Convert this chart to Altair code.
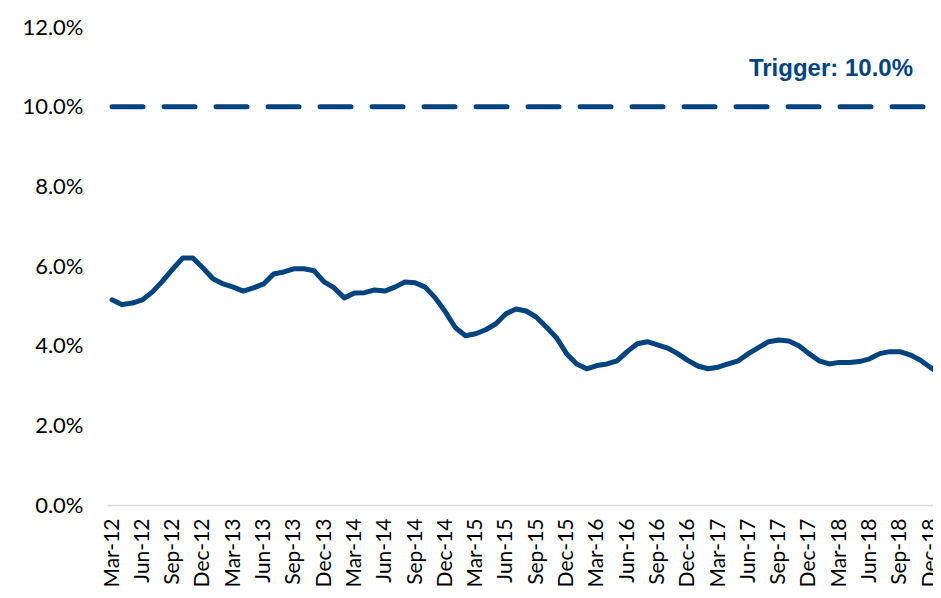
import altair as alt
import pandas as pd

# Monthly categories (Mar-12 .. Jan-19)
months = [d.strftime("%b-%y") for d in pd.date_range("2012-03-01", "2019-01-01", freq="MS")]

# Series values (%)
ratio = [
    5.15, 5.03, 5.07, 5.15, 5.35, 5.62, 5.92, 6.20, 6.20, 5.95,
    5.68, 5.55, 5.47, 5.37, 5.45, 5.55, 5.80, 5.85, 5.93, 5.93,
    5.88, 5.60, 5.45, 5.20, 5.32, 5.33, 5.40, 5.37, 5.47, 5.60,
    5.58, 5.47, 5.20, 4.85, 4.45, 4.25, 4.30, 4.40, 4.55, 4.80,
    4.92, 4.87, 4.72, 4.47, 4.20, 3.80, 3.54, 3.42, 3.50, 3.54,
    3.62, 3.85, 4.05, 4.10, 4.02, 3.94, 3.80, 3.63, 3.49, 3.42,
    3.46, 3.54, 3.62, 3.80, 3.95, 4.10, 4.14, 4.12, 4.00, 3.80,
    3.62, 3.54, 3.58, 3.58, 3.60, 3.67, 3.80, 3.85, 3.85, 3.77,
    3.64, 3.46, 3.28,
]
trigger = 10.0
trigger_label = "Trigger: 10.0%"
y_ticks = [0.0, 0.02, 0.04, 0.06, 0.08, 0.10, 0.12]

label_every = 3
tick_idx = list(range(0, len(months), label_every))

df = pd.DataFrame({
    "idx": list(range(len(months))),
    "month": months,
    "value": [v / 100 for v in ratio],
})
df_trig = pd.DataFrame({
    "idx": list(range(len(months))),
    "value": [trigger / 100] * len(months),
})
df_text = pd.DataFrame({"value": [trigger / 100], "label": [trigger_label]})

BLUE = "#00437f"
months_js = "[" + ",".join("'" + m + "'" for m in months) + "]"

x_scale = alt.Scale(domain=[-0.5, 81.28], nice=False, zero=False)
y_scale = alt.Scale(domain=[0, 0.12], nice=False)

x_axis = alt.Axis(
    values=tick_idx,
    labelExpr=months_js + "[datum.value]",
    labelAngle=270,
    labelFont="Lato",
    labelFontSize=21,
    labelColor="#000000",
    labelPadding=13,
    ticks=False,
    tickSize=0,
    grid=False,
    domain=True,
    domainColor="#d9d9d9",
    domainWidth=1.5,
    labelOverlap=False,
    labelBound=False,
    labelFlush=False,
    title=None,
)
y_axis = alt.Axis(
    values=y_ticks,
    format=".1%",
    labelFont="Lato",
    labelFontSize=22,
    labelColor="#000000",
    labelPadding=24,
    ticks=False,
    tickSize=0,
    grid=False,
    domain=False,
    title=None,
)

trig_line = alt.Chart(df_trig).mark_line(
    color=BLUE, strokeWidth=5, strokeDash=[31, 21], strokeCap="round", clip=True
).encode(
    x=alt.X("idx:Q", scale=x_scale, axis=x_axis),
    y=alt.Y("value:Q", scale=y_scale, axis=y_axis),
)

series = alt.Chart(df).mark_line(
    color=BLUE, strokeWidth=5, strokeJoin="round", strokeCap="round", clip=True
).encode(
    x=alt.X("idx:Q", scale=x_scale, axis=x_axis),
    y=alt.Y("value:Q", scale=y_scale, axis=y_axis),
)

text = alt.Chart(df_text).mark_text(
    font="Liberation Sans", fontSize=24, fontWeight="bold", color=BLUE,
    align="right", baseline="alphabetic", dx=-20, dy=-31,
).encode(
    x=alt.value("width"),
    y=alt.Y("value:Q", scale=y_scale),
    text="label:N",
)

chart = alt.layer(trig_line, series, text).properties(
    width=826,
    height=478,
    background="white",
    autosize=alt.AutoSizeParams(type="none"),
    padding={"left": 99, "top": 19, "right": 0, "bottom": 85},
).configure_view(stroke=None)

chart.save("out.html", embed_options={"renderer": "svg", "actions": False})
